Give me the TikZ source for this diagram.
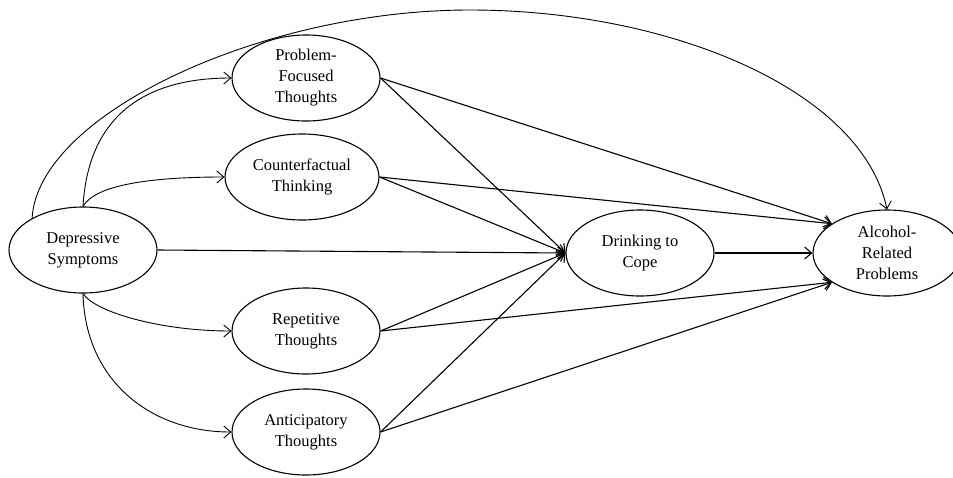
\documentclass[tikz,border=0pt]{standalone}
\usepackage{fontspec}
\setmainfont{Liberation Serif}
\usetikzlibrary{shapes.geometric,arrows.meta}
\newcommand{\varfont}{\fontsize{16.5}{21}\selectfont}

\begin{document}
\begin{tikzpicture}[x=1pt, y=-1pt,
    var/.style={draw, ellipse, line width=1.1pt, minimum width=148pt, minimum height=86pt, inner sep=0pt, align=center, font=\varfont},
    effect/.style={line width=1.1pt, -{Straight Barb[length=7pt, width=12pt]}},
    effectcurve/.style={line width=0.9pt, -{Straight Barb[length=7pt, width=12pt]}},
]
    \useasboundingbox (0,0) rectangle (953,477);

    % Variables
    \node[var] (dep) at (83,250) {Depressive\\Symptoms};
    \node[var] (prob) at (306,78) {Problem-\\Focused\\Thoughts};
    \node[var, minimum width=154pt] (cf) at (302,177) {Counterfactual\\Thinking};
    \node[var] (rep) at (306,331) {Repetitive\\Thoughts};
    \node[var] (ant) at (306,432) {Anticipatory\\Thoughts};
    \node[var] (cope) at (640,253) {Drinking to\\Cope};
    \node[var] (alc) at (887,253) {Alcohol-\\Related\\Problems};
    \coordinate (arctop) at (470,10);

    % Predictor to mediators
    \draw[effectcurve] (dep.north) .. controls (88,120) and (140,78) .. (prob.west);
    \draw[effectcurve] (dep.north) .. controls (95,185) and (150,177) .. (cf.west);
    \draw[effectcurve] (dep.south) .. controls (95,312) and (160,331) .. (rep.west);
    \draw[effectcurve] (dep.south) .. controls (85,380) and (150,432) .. (ant.west);

    % Direct paths
    \draw[effect] (dep.east) -- (cope.west);
    \draw[effectcurve] (dep.148) .. controls (38,115) and (260,10) .. (arctop)
        .. controls (670,10) and (862,90) .. (alc.north);

    % Mediators to drinking to cope and problems
    \foreach \m in {prob,cf,rep,ant} {
        \draw[effect] (\m.east) -- (cope.west);
    }
    \draw[effect] (prob.east) -- (alc.152);
    \draw[effect] (cf.east) -- (alc.152);
    \draw[effect] (rep.east) -- (alc.208);
    \draw[effect] (ant.east) -- (alc.208);
    \draw[effect] (cope.east) -- (alc.west);
\end{tikzpicture}
\end{document}
